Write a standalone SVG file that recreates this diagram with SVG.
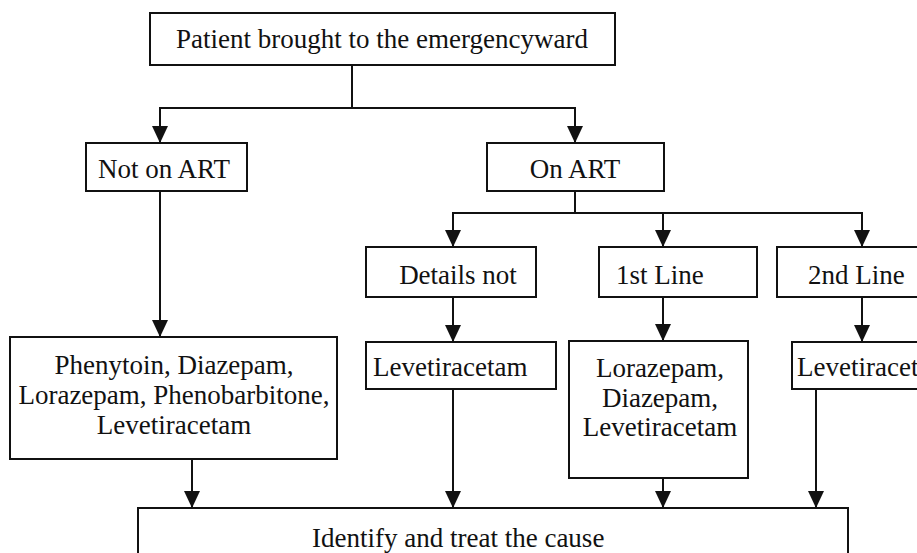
<svg xmlns="http://www.w3.org/2000/svg" width="917" height="553" viewBox="0 0 917 553">
<style>
.box{fill:#fff;stroke:#111;stroke-width:2}
.t{font-size:27px;fill:#111}
.c{text-anchor:middle}
.ln{fill:none;stroke:#111;stroke-width:2}
</style>
<defs>
<marker id="ah" markerUnits="userSpaceOnUse" markerWidth="18" markerHeight="17" refX="17" refY="8" orient="auto">
<path d="M0,0 L17,8 L0,16 z" fill="#111"/>
</marker>
</defs>
<rect width="917" height="553" fill="#fff"/>
<g id="connectors">
<path class="ln" d="M352,65 V108 H160 V143" marker-end="url(#ah)"/>
<path class="ln" d="M352,108 H575 V143" marker-end="url(#ah)"/>
<path class="ln" d="M160,191 V337" marker-end="url(#ah)"/>
<path class="ln" d="M575,191 V213 H453 V247" marker-end="url(#ah)"/>
<path class="ln" d="M575,213 H663 V247" marker-end="url(#ah)"/>
<path class="ln" d="M663,213 H862 V247" marker-end="url(#ah)"/>
<path class="ln" d="M453,297 V342" marker-end="url(#ah)"/>
<path class="ln" d="M663,297 V341" marker-end="url(#ah)"/>
<path class="ln" d="M862,297 V342" marker-end="url(#ah)"/>
<path class="ln" d="M192,459 V508" marker-end="url(#ah)"/>
<path class="ln" d="M453,389 V508" marker-end="url(#ah)"/>
<path class="ln" d="M663,478 V508" marker-end="url(#ah)"/>
<path class="ln" d="M816,389 V508" marker-end="url(#ah)"/>
</g>
<g font-family="'Liberation Serif', 'DejaVu Serif', serif">
<g id="start">
<rect class="box" x="150" y="13" width="465" height="52"/>
<text class="t c" x="382" y="48">Patient brought to the emergencyward</text>
</g>
<g id="not-on-art">
<rect class="box" x="86" y="143" width="161" height="48"/>
<text class="t c" x="164" y="178">Not on ART</text>
</g>
<g id="on-art">
<rect class="box" x="487" y="143" width="177" height="48"/>
<text class="t c" x="575" y="178">On ART</text>
</g>
<g id="details-not">
<rect class="box" x="366" y="247" width="170" height="50"/>
<text class="t c" x="458" y="284">Details not</text>
</g>
<g id="first-line">
<rect class="box" x="599" y="247" width="158" height="50"/>
<text class="t" x="616" y="284">1st Line</text>
</g>
<g id="second-line">
<rect class="box" x="777" y="247" width="160" height="50"/>
<text class="t" x="808" y="284">2nd Line</text>
</g>
<g id="not-art-drugs">
<rect class="box" x="10" y="337" width="327" height="122"/>
<text class="t c" x="174" y="374">Phenytoin, Diazepam,</text>
<text class="t c" x="174" y="404">Lorazepam, Phenobarbitone,</text>
<text class="t c" x="174" y="434">Levetiracetam</text>
</g>
<g id="details-drugs">
<rect class="box" x="366" y="342" width="190" height="47"/>
<text class="t" x="373" y="376">Levetiracetam</text>
</g>
<g id="first-line-drugs">
<rect class="box" x="569" y="341" width="179" height="137"/>
<text class="t c" x="660" y="377">Lorazepam,</text>
<text class="t c" x="660" y="407">Diazepam,</text>
<text class="t c" x="660" y="436">Levetiracetam</text>
</g>
<g id="second-line-drugs">
<rect class="box" x="792" y="342" width="160" height="47"/>
<text class="t" x="797" y="376">Levetiracetam</text>
</g>
<g id="treat">
<rect class="box" x="138" y="508" width="710" height="60"/>
<text class="t" x="312" y="547">Identify and treat the cause</text>
</g>
</g>
</svg>
